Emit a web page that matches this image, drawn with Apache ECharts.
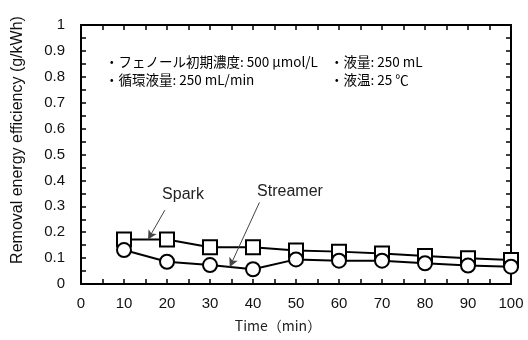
<!DOCTYPE html>
<html>
<head>
<meta charset="utf-8">
<script src="https://cdn.jsdelivr.net/npm/echarts@6/dist/echarts.min.js"></script>
<style>
html,body{margin:0;padding:0;background:#fff;}
#chart{width:528px;height:340px;}
</style>
</head>
<body>
<div id="chart"></div>
<script>
// Treatment time (min)
const times = [10, 20, 30, 40, 50, 60, 70, 80, 90, 100];
// Removal energy efficiency (g/kWh)
const sparkValues = [0.172, 0.172, 0.142, 0.142, 0.129, 0.125, 0.118, 0.108, 0.099, 0.093];
const streamerValues = [0.131, 0.086, 0.073, 0.057, 0.095, 0.090, 0.090, 0.080, 0.071, 0.067];
// Axis tick labels
const yTickLabels = ['0', '0.1', '0.2', '0.3', '0.4', '0.5', '0.6', '0.7', '0.8', '0.9', '1'];
const xTickLabels = ['0', '10', '20', '30', '40', '50', '60', '70', '80', '90', '100'];
// Experimental conditions
const conditionLines = [
  ['・フェノール初期濃度: 500 μmol/L', '・液量: 250 mL'],
  ['・循環液量: 250 mL/min', '・液温: 25 ℃']
];

const chart = echarts.init(document.getElementById('chart'), null, { renderer: 'canvas' });

const latin = 'Liberation Sans, Arial, sans-serif';
const cjk = '"Noto Sans CJK JP", sans-serif';

const frame = { show: true, lineStyle: { color: '#000', width: 2 } };
const inTick = { show: true, inside: true, length: 5, lineStyle: { color: '#000', width: 1.5 } };

function xAxis(position, showLabel) {
  return {
    type: 'value', position, min: 0, max: 100, interval: 5,
    axisLine: Object.assign({ onZero: false }, frame),
    axisTick: inTick,
    splitLine: { show: false },
    axisLabel: {
      show: showLabel, margin: 12, color: '#111', fontFamily: latin, fontSize: 15,
      formatter: v => (v % 10 === 0 ? xTickLabels[v / 10] : '')
    }
  };
}
function yAxis(position, showLabel) {
  return {
    type: 'value', position, min: 0, max: 1, interval: 0.05,
    axisLine: Object.assign({ onZero: false }, frame),
    axisTick: inTick,
    splitLine: { show: false },
    axisLabel: {
      show: showLabel, margin: 16, color: '#111', fontFamily: latin, fontSize: 15,
      formatter: v => {
        const i = Math.round(v * 20);
        return i % 2 === 0 ? yTickLabels[i / 2] : '';
      }
    }
  };
}

const lineStyle = { color: '#000', width: 2 };
const itemStyle = { color: '#fff', borderColor: '#000', borderWidth: 2 };
const arrowStyle = { color: '#444', width: 1, type: 'solid' };

chart.setOption({
  animation: false,
  backgroundColor: '#fff',
  grid: { left: 81, right: 17, top: 25, bottom: 56 },
  xAxis: [xAxis('bottom', true), xAxis('top', false)],
  yAxis: [yAxis('left', true), yAxis('right', false)],
  series: [
    {
      name: 'Spark', type: 'line',
      data: times.map((t, i) => [t, sparkValues[i]]),
      symbol: 'rect', symbolSize: 14,
      lineStyle, itemStyle, z: 3,
      markLine: {
        silent: true, animation: false,
        symbol: ['none', 'arrow'], symbolSize: [7, 9],
        lineStyle: arrowStyle,
        label: { show: false },
        data: [[{ coord: [19.5, 0.285] }, { coord: [15.6, 0.172] }]]
      }
    },
    {
      name: 'Streamer', type: 'line',
      data: times.map((t, i) => [t, streamerValues[i]]),
      symbol: 'circle', symbolSize: 14,
      lineStyle, itemStyle, z: 4,
      markLine: {
        silent: true, animation: false,
        symbol: ['none', 'arrow'], symbolSize: [7, 9],
        lineStyle: arrowStyle,
        label: { show: false },
        data: [[{ coord: [41.5, 0.315] }, { coord: [34.6, 0.066] }]]
      }
    }
  ],
  graphic: [
    {
      type: 'text', x: 18, y: 140, rotation: Math.PI / 2,
      style: { text: 'Removal energy efficiency (g/kWh)', font: '16px ' + latin, fill: '#111', align: 'center', verticalAlign: 'middle' }
    },
    {
      type: 'text', x: 278, y: 326,
      style: { text: 'Time（min）', font: '14px ' + cjk, fill: '#222', align: 'center', verticalAlign: 'middle' }
    },
    {
      type: 'text', x: 183, y: 195,
      style: { text: 'Spark', font: '16px ' + latin, fill: '#222', align: 'center', verticalAlign: 'middle' }
    },
    {
      type: 'text', x: 290, y: 192,
      style: { text: 'Streamer', font: '16px ' + latin, fill: '#222', align: 'center', verticalAlign: 'middle' }
    },
    {
      type: 'text', x: 105, y: 62,
      style: { text: conditionLines[0][0], font: '13.5px ' + cjk, fill: '#000', verticalAlign: 'middle' }
    },
    {
      type: 'text', x: 330, y: 62,
      style: { text: conditionLines[0][1], font: '13.5px ' + cjk, fill: '#000', verticalAlign: 'middle' }
    },
    {
      type: 'text', x: 105, y: 80,
      style: { text: conditionLines[1][0], font: '13.5px ' + cjk, fill: '#000', verticalAlign: 'middle' }
    },
    {
      type: 'text', x: 330, y: 80,
      style: { text: conditionLines[1][1], font: '13.5px ' + cjk, fill: '#000', verticalAlign: 'middle' }
    }
  ]
});
</script>
</body>
</html>
